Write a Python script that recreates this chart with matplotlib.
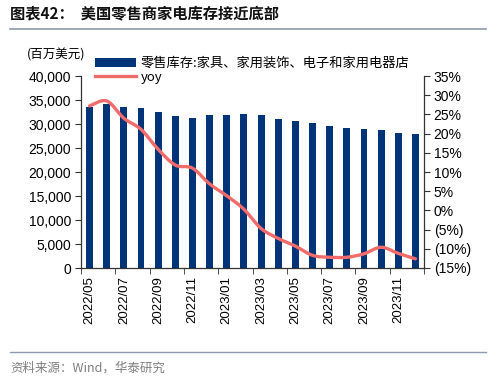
import matplotlib
matplotlib.use("Agg")
import matplotlib.pyplot as plt
from matplotlib.path import Path
from matplotlib.patches import PathPatch
from matplotlib.lines import Line2D
from matplotlib.patches import Patch
import numpy as np

months = ["2022/05", "2022/06", "2022/07", "2022/08", "2022/09", "2022/10", "2022/11",
          "2022/12", "2023/01", "2023/02", "2023/03", "2023/04", "2023/05", "2023/06",
          "2023/07", "2023/08", "2023/09", "2023/10", "2023/11", "2023/12"]
inventory = [33600, 34200, 33600, 33270, 32500, 31670, 31320, 31850, 31800, 32080,
             31920, 31040, 30550, 30140, 29510, 29170, 28960, 28680, 28060, 27850]
yoy = [27.2, 28.5, 24.0, 21.1, 15.9, 11.8, 11.0, 6.9, 3.8, 0.3,
       -4.7, -7.3, -9.3, -11.7, -12.2, -12.2, -11.3, -9.6, -11.2, -12.6]
bar_label = "零售库存:家具、家用装饰、电子和家用电器店"
line_label = "yoy"
title = "图表42：  美国零售商家电库存接近底部"
unit = "(百万美元)"
source = "资料来源：Wind，华泰研究"
left_ticks = [0, 5000, 10000, 15000, 20000, 25000, 30000, 35000, 40000]
right_ticks = [-15, -10, -5, 0, 5, 10, 15, 20, 25, 30, 35]

BAR = "#003478"
LINE = "#F26B6B"
NUM = ["Liberation Sans", "Noto Sans CJK SC"]
CJK = ["Noto Sans CJK SC", "DejaVu Sans"]

fig = plt.figure(figsize=(5.0, 3.81), dpi=100)
ax = fig.add_axes([81/500, 1-268/381, (424-81)/500, (268-76)/381])
ax2 = ax.twinx()
ax.set_zorder(1)
ax2.set_zorder(2)
ax.patch.set_visible(False)
ax2.patch.set_visible(False)

x = np.arange(len(months))
ax.bar(x, inventory, width=0.4, color=BAR, zorder=2)
ax.set_xlim(-0.5, len(months) - 0.5)
ax.set_ylim(0, 40000)
ax.set_yticks(left_ticks)
ax.set_yticklabels([f"{v:,}" for v in left_ticks], fontfamily=NUM, fontsize=10)

ax.set_xticks(x[::2])
ax.set_xticklabels(months[::2], rotation=90, fontfamily=NUM, fontsize=9.5)
ax.set_xticks(np.arange(-0.5, len(months), 2), minor=True)
ax.tick_params(axis="x", which="major", length=0, pad=6)
ax.tick_params(axis="x", which="minor", length=4, direction="out", color="#333333")
ax.tick_params(axis="y", length=4, direction="out", color="#333333", pad=3)

# smooth yoy line (Excel-style smoothed line) drawn as a Bezier path
pts = list(zip(x.astype(float), yoy))
verts = [pts[0]]
codes = [Path.MOVETO]
n = len(pts)
for i in range(n - 1):
    p0 = pts[i - 1] if i > 0 else pts[i]
    p1 = pts[i]
    p2 = pts[i + 1]
    p3 = pts[i + 2] if i + 2 < n else pts[i + 1]
    c1 = (p1[0] + (p2[0] - p0[0]) / 6, p1[1] + (p2[1] - p0[1]) / 6)
    c2 = (p2[0] - (p3[0] - p1[0]) / 6, p2[1] - (p3[1] - p1[1]) / 6)
    verts += [c1, c2, p2]
    codes += [Path.CURVE4] * 3
ax2.add_patch(PathPatch(Path(verts, codes), facecolor="none", edgecolor=LINE,
                        lw=2.4, capstyle="round", joinstyle="round", zorder=3))
ax2.set_ylim(-15, 35)
ax2.set_yticks(right_ticks)
ax2.set_yticklabels([f"{v}%" if v >= 0 else f"({-v}%)" for v in right_ticks],
                    fontfamily=NUM, fontsize=10)
ax2.tick_params(axis="y", length=4, direction="out", color="#333333", pad=3)

for a in (ax, ax2):
    a.spines["top"].set_visible(False)
    for s in ("left", "right", "bottom"):
        a.spines[s].set_color("#333333")
        a.spines[s].set_linewidth(0.9)
ax2.spines["left"].set_visible(False)
ax2.spines["bottom"].set_visible(False)
ax.spines["right"].set_visible(False)

handles = [Patch(facecolor=BAR, edgecolor="none"),
           Line2D([0], [0], color=LINE, lw=2.4)]
leg = fig.legend(handles, [bar_label, line_label], loc="upper left",
                 bbox_to_anchor=(95/500, 1-57/381), frameon=False,
                 prop={"family": CJK, "size": 9.5}, handlelength=3.1,
                 handleheight=0.6, handletextpad=0.35, labelspacing=0.05,
                 borderaxespad=0, borderpad=0)

fig.text(27/500, 1-55/381, unit, fontfamily=CJK, fontsize=9, va="center", ha="left")
fig.text(10/500, 1-14/381, title, fontfamily=CJK, fontsize=11, fontweight="bold",
         va="center", ha="left", color="#111111")
fig.add_artist(Line2D([10/500, 486/500], [1-29/381, 1-29/381], color="#8E9AAE", lw=1.2))
fig.add_artist(Line2D([10/500, 486/500], [1-352/381, 1-352/381], color="#8E9AAE", lw=1.0))
fig.text(10/500, 1-368/381, source, fontfamily=CJK, fontsize=9, va="center", ha="left",
         color="#7F7F7F")

fig.savefig("out.png", dpi=100)
